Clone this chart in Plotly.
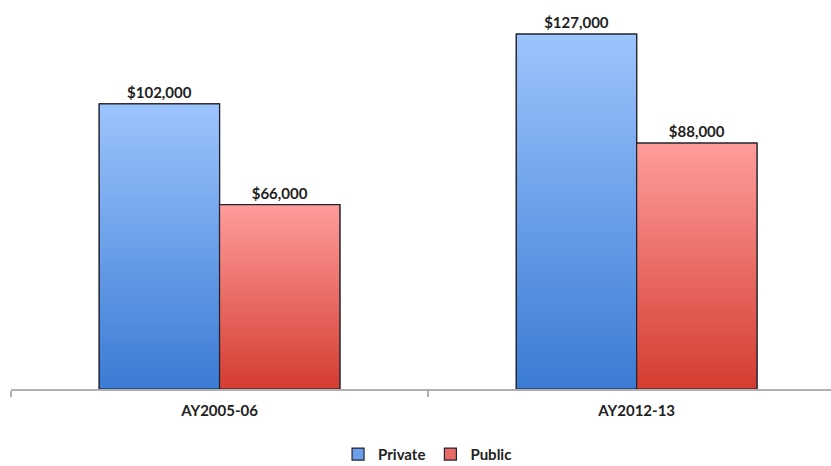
import plotly.graph_objects as go

categories = ["AY2005-06", "AY2012-13"]
private_vals = [102000, 127000]
public_vals = [66000, 88000]
series_names = ["Private", "Public"]

BARGAP = 0.423
w = (1 - BARGAP) / 2
x_idx = list(range(len(categories)))

styles = {
    "Private": dict(top="#9dc4fd", bottom="#3a7bd4", mid="#6b9fe9", off=-w / 2),
    "Public": dict(top="#ff9d9b", bottom="#d43c31", mid="#ea6b65", off=w / 2),
}
outline = "#22232e"
font_family = "Lato, 'Liberation Sans', sans-serif"

fig = go.Figure()

for name, vals in zip(series_names, [private_vals, public_vals]):
    st = styles[name]
    fig.add_trace(go.Bar(
        name=name, x=x_idx, y=vals, offsetgroup=name,
        marker=dict(color=st["mid"], line=dict(color=outline, width=1.2)),
        text=[f"${v:,.0f}" for v in vals], textposition="outside",
        textfont=dict(family=font_family, size=15, color="#222222", weight="bold"),
        cliponaxis=False, hoverinfo="skip",
    ))

# gradient overlays computed from the same data
for name, vals in zip(series_names, [private_vals, public_vals]):
    st = styles[name]
    for i, v in zip(x_idx, vals):
        c = i + st["off"]
        x0, x1 = c - w / 2, c + w / 2
        fig.add_trace(go.Scatter(
            x=[x0, x1, x1, x0, x0], y=[0, 0, v, v, 0],
            mode="lines", fill="toself",
            line=dict(color=outline, width=1.2),
            fillgradient=dict(type="vertical", start=0, stop=v,
                              colorscale=[[0, st["bottom"]], [1, st["top"]]]),
            showlegend=False, hoverinfo="skip",
        ))

fig.update_layout(
    width=831, height=466,
    margin=dict(l=11, r=0, t=10, b=77, autoexpand=False),
    barmode="group", bargap=BARGAP, bargroupgap=0,
    plot_bgcolor="white", paper_bgcolor="white",
    font=dict(family=font_family, size=14, color="#222222"),
    showlegend=True,
    legend=dict(orientation="h", x=0.508, xanchor="center",
                yref="container", y=0.025, yanchor="middle",
                font=dict(family=font_family, size=15, color="#222222", weight="bold"),
                itemwidth=30, tracegroupgap=0),
    xaxis=dict(
        range=[-0.5, 1.466], tickvals=x_idx, ticktext=categories, ticks="",
        showline=True, linecolor="#b0b0b0", linewidth=1.5, showgrid=False,
        zeroline=False, fixedrange=True, ticklabelstandoff=7,
        tickfont=dict(family=font_family, size=15, color="#222222", weight="bold"),
        minor=dict(tickvals=[-0.5, 0.5], ticks="outside", ticklen=6,
                   tickcolor="#b0b0b0", tickwidth=1.5, showgrid=False),
    ),
    yaxis=dict(range=[0, 135600], visible=False, showgrid=False, zeroline=False),
)

fig.write_html("out.html")
